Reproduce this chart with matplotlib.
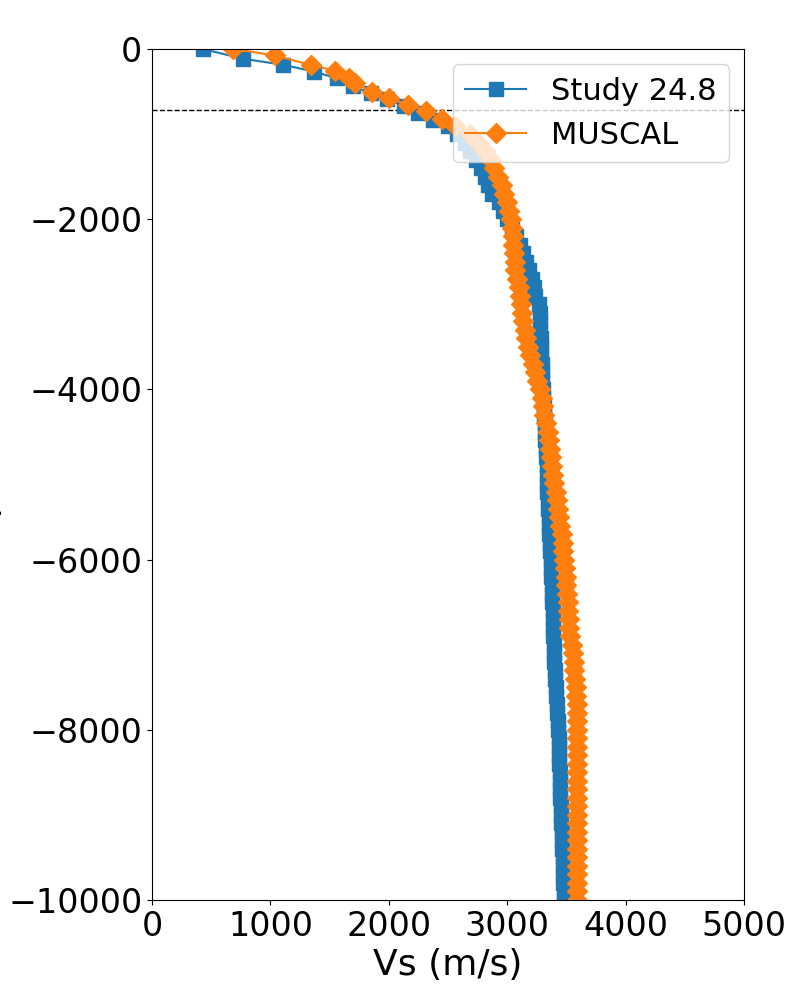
import matplotlib
matplotlib.use("Agg")
import matplotlib.pyplot as plt

# Study 24.8 profile (depth in m, Vs in m/s)
study_depth = [0, -115, -185, -265, -345, -435, -520, -585, -670, -750, -830, -910,
               -1000, -1100, -1200, -1300, -1400, -1500, -1600, -1700, -1800, -1900,
               -2000, -2100, -2200, -2300, -2400, -2500, -2600, -2700, -2800, -2900,
               -3000, -3100, -3200, -3300, -3400, -3500, -3600, -3700, -3800, -3900,
               -4000, -4100, -4200, -4300, -4400, -4500, -4600, -4700, -4800, -4900,
               -5000, -5100, -5200, -5300, -5400, -5500, -5600, -5700, -5800, -5900,
               -6000, -6100, -6200, -6300, -6400, -6500, -6600, -6700, -6800, -6900,
               -7000, -7100, -7200, -7300, -7400, -7500, -7600, -7700, -7800, -7900,
               -8000, -8100, -8200, -8300, -8400, -8500, -8600, -8700, -8800, -8900,
               -9000, -9100, -9200, -9300, -9400, -9500, -9600, -9700, -9800, -9900,
               -10000]
study_vs = [430, 770, 1105, 1370, 1560, 1695, 1850, 1985, 2125, 2250, 2375, 2500,
            2580, 2645, 2690, 2740, 2780, 2810, 2840, 2870, 2930, 2965,
            3000, 3040, 3075, 3105, 3130, 3160, 3185, 3210, 3225, 3235,
            3270, 3275, 3278, 3280, 3283, 3285, 3287, 3290, 3294, 3298,
            3302, 3306, 3310, 3313, 3316, 3319, 3322, 3325, 3329, 3333,
            3335, 3337, 3340, 3342, 3346, 3349, 3353, 3356, 3360, 3364,
            3367, 3370, 3373, 3376, 3379, 3381, 3384, 3387, 3389, 3391,
            3393, 3395, 3398, 3402, 3406, 3410, 3414, 3418, 3422, 3426,
            3430, 3434, 3437, 3439, 3441, 3444, 3446, 3448, 3450, 3452,
            3454, 3457, 3460, 3463, 3466, 3468, 3470, 3472, 3474, 3476,
            3478]

# MUSCAL profile
muscal_depth = [0, -75, -188, -255, -345, -404, -501, -580, -658, -725, -823, -900,
                -1000, -1100, -1200, -1300, -1400, -1500, -1600, -1700, -1800, -1900,
                -2000, -2100, -2200, -2300, -2400, -2500, -2600, -2700, -2800, -2900,
                -3000, -3100, -3200, -3300, -3400, -3500, -3600, -3700, -3800, -3900,
                -4000, -4100, -4200, -4300, -4400, -4500, -4600, -4700, -4800, -4900,
                -5000, -5100, -5200, -5300, -5400, -5500, -5600, -5700, -5800, -5900,
                -6000, -6100, -6200, -6300, -6400, -6500, -6600, -6700, -6800, -6900,
                -7000, -7100, -7200, -7300, -7400, -7500, -7600, -7700, -7800, -7900,
                -8000, -8100, -8200, -8300, -8400, -8500, -8600, -8700, -8800, -8900,
                -9000, -9100, -9200, -9300, -9400, -9500, -9600, -9700, -9800, -9900,
                -10000]
muscal_vs = [687, 1035, 1340, 1545, 1667, 1715, 1855, 2005, 2165, 2314, 2447, 2560,
             2690, 2765, 2815, 2860, 2892, 2925, 2953, 2975, 2998, 3018,
             3030, 3040, 3048, 3053, 3058, 3063, 3070, 3085, 3100, 3112,
             3118, 3125, 3135, 3148, 3160, 3175, 3195, 3215, 3235, 3255,
             3275, 3290, 3300, 3310, 3325, 3345, 3355, 3363, 3372, 3380,
             3390, 3398, 3408, 3418, 3428, 3440, 3450, 3460, 3468, 3475,
             3482, 3490, 3495, 3500, 3505, 3510, 3515, 3520, 3525, 3530,
             3545, 3553, 3560, 3568, 3576, 3580, 3583, 3586, 3587, 3588,
             3588, 3589, 3589, 3590, 3590, 3590, 3589, 3589, 3590, 3590,
             3590, 3590, 3589, 3589, 3590, 3590, 3590, 3590, 3590, 3590,
             3590]

# depth of the horizontal reference line
ref_depth = -720

fig = plt.figure(figsize=(8, 10), dpi=100)
ax = fig.add_axes([0.19, 0.1, 0.74, 0.851])

ax.axhline(ref_depth, color="black", linestyle="--", linewidth=1)
ax.plot(study_vs, study_depth, marker="s", markersize=10, label="Study 24.8")
ax.plot(muscal_vs, muscal_depth, marker="D", markersize=10, label="MUSCAL")

ax.set_xlim(0, 5000)
ax.set_ylim(-10000, 0)
ax.tick_params(labelsize=24)
ax.set_xlabel("Vs (m/s)", fontsize=26)
ax.set_ylabel("Depth (m)", fontsize=26)
# label sits almost entirely outside the canvas, as in the original
ax.yaxis.set_label_coords(-0.254, 0.5)

ax.legend(loc="upper right", fontsize=22)

fig.savefig("out.png", dpi=100)
